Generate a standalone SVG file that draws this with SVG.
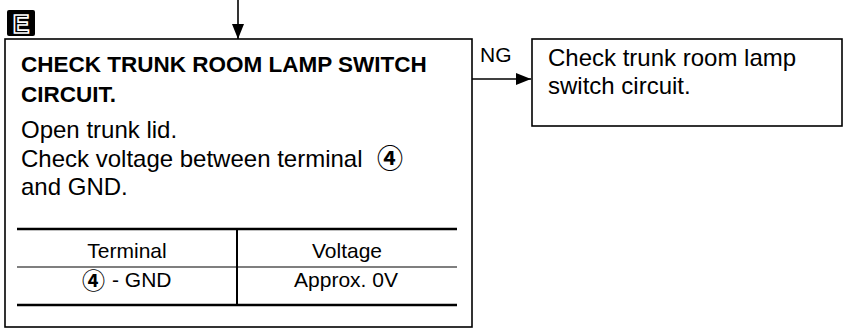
<svg xmlns="http://www.w3.org/2000/svg" width="850" height="329" viewBox="0 0 850 329">
<defs>
<style>
.box{fill:#fff;stroke:#000;stroke-width:1.6}
.t{font-family:"Liberation Sans","DejaVu Sans",Arial,sans-serif;fill:#000}
.title{font-size:22.5px;font-weight:bold}
.body{font-size:24px}
.tab{font-size:21px}
.ng{font-size:21px}
.circ{font-family:"Noto Sans CJK JP","DejaVu Sans",sans-serif;font-weight:bold}
.line{stroke:#000;fill:none}
</style>
<marker id="ah" markerWidth="16" markerHeight="12" refX="15" refY="6" orient="auto" markerUnits="userSpaceOnUse">
<path d="M0,0 L15,6 L0,12 Z" fill="#000"/>
</marker>
</defs>
<rect width="850" height="329" fill="#fff"/>
<g id="connectors">
<line class="line" x1="238" y1="0" x2="238" y2="39" stroke-width="1.6" marker-end="url(#ah)"/>
<line class="line" x1="472" y1="79" x2="531" y2="79" stroke-width="1.4" marker-end="url(#ah)"/>
<text class="t ng" x="480" y="62">NG</text>
</g>
<g id="badge-E">
<rect x="7" y="10" width="28" height="26" rx="2" fill="#000"/>
<text class="t" x="21" y="32.5" text-anchor="middle" font-size="25" font-weight="bold" fill="none" stroke="#fff" stroke-width="1.6">E</text>
</g>
<g id="node-check-circuit">
<rect class="box" x="5" y="39" width="467" height="288"/>
<text class="t title" x="21" y="71.5">CHECK TRUNK ROOM LAMP SWITCH</text>
<text class="t title" x="21" y="101.5">CIRCUIT.</text>
<text class="t body" x="21" y="138">Open trunk lid.</text>
<text class="t body" x="21" y="166.5">Check voltage between terminal</text>
<text class="t circ" x="377" y="168" font-size="26">④</text>
<text class="t body" x="21" y="195">and GND.</text>
<g id="table">
<line class="line" x1="17" y1="229" x2="457" y2="229" stroke-width="2.6"/>
<line class="line" x1="17" y1="267" x2="457" y2="267" stroke-width="1.1"/>
<line class="line" x1="17" y1="305" x2="457" y2="305" stroke-width="2.6"/>
<line class="line" x1="237" y1="229" x2="237" y2="305" stroke-width="2"/>
<text class="t tab" x="127" y="258" text-anchor="middle">Terminal</text>
<text class="t tab" x="347" y="258" text-anchor="middle">Voltage</text>
<text class="t circ" x="82" y="289" font-size="23">④</text>
<text class="t tab" x="112" y="287">- GND</text>
<text class="t tab" x="346" y="287" text-anchor="middle">Approx. 0V</text>
</g>
</g>
<g id="node-check-switch">
<rect class="box" x="532" y="39" width="310" height="87"/>
<text class="t body" x="548" y="66" font-size="23">Check trunk room lamp</text>
<text class="t body" x="548" y="94" font-size="23">switch circuit.</text>
</g>
</svg>
